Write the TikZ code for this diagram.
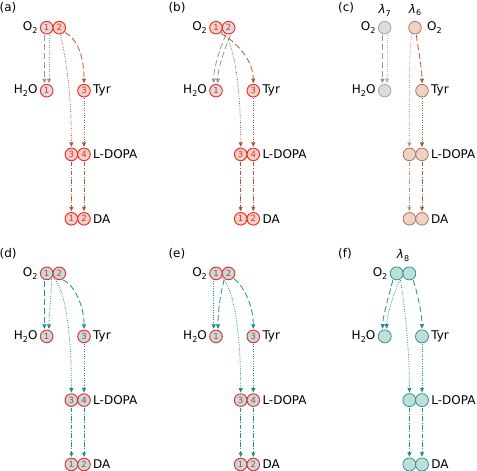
\documentclass[tikz,border=0pt]{standalone}
\usepackage{fontspec}
\setmainfont{DejaVu Sans}
\usetikzlibrary{arrows.meta}
\definecolor{cgray}{HTML}{959595}
\definecolor{cbrown}{HTML}{A8593A}
\definecolor{cbrownL}{HTML}{C8917A}
\definecolor{cteal}{HTML}{1E9090}
\definecolor{fgray}{HTML}{DCDCDC}
\definecolor{fbrown}{HTML}{ECD3C6}
\definecolor{fteal}{HTML}{BCDFDB}
\definecolor{cred}{HTML}{F42A2A}
\definecolor{bgray}{HTML}{A0A0A0}
\definecolor{bbrown}{HTML}{B5694A}
\definecolor{bteal}{HTML}{2A8E8E}
\newcommand\sbs[1]{\raisebox{-0.45ex}{\fontsize{8}{8}\selectfont #1}}
\begin{document}
\begin{tikzpicture}[x=1pt,y=-1pt,
  atom/.style={circle, draw=cred, line width=0.95pt, minimum size=12.6pt, inner sep=0pt, outer sep=1.2pt,
    font=\fontsize{8.5}{8.5}\selectfont, text=cred},
  gatom/.style={circle, draw=bgray, fill=fgray, line width=0.75pt, minimum size=12.6pt, inner sep=0pt, outer sep=1.2pt},
  batom/.style={circle, draw=bbrown, fill=fbrown, line width=0.75pt, minimum size=12.6pt, inner sep=0pt, outer sep=1.2pt},
  tatom/.style={circle, draw=bteal, fill=fteal, line width=0.75pt, minimum size=13pt, inner sep=0pt, outer sep=1.2pt},
  lbl/.style={font=\fontsize{12}{12}\selectfont, inner sep=1.5pt},
  plbl/.style={font=\fontsize{12}{12}\selectfont, inner sep=0pt, anchor=west},
  lam/.style={font=\fontsize{12}{12}\selectfont\itshape, inner sep=0pt},
  arr/.style={line width=0.8pt, -{Triangle[length=4.5pt,width=4pt]}},
  dsh/.style={arr, dash pattern=on 6pt off 3pt},
  dtt/.style={arr, dash pattern=on 0.9pt off 1.5pt},
  ddt/.style={arr, dash pattern=on 4.5pt off 1.6pt on 0.9pt off 1.6pt},
]
\path[use as bounding box] (0,0) rectangle (477,471);

% ---------------- (a)
\node[plbl] (pa) at (-0.5,8) {(a)};
\node[atom, fill=fgray]  (aO1) at (46.7,27.7) {1};
\node[atom, fill=fbrown] (aO2) at (59.3,27.7) {2};
\node[atom, fill=fgray]  (aW)  at (46.7,90.7) {1};
\node[atom, fill=fbrown] (aT)  at (84,90.7) {3};
\node[atom, fill=fbrown] (aL1) at (71.4,154.4) {3};
\node[atom, fill=fbrown] (aL2) at (84,154.4) {4};
\node[atom, fill=fbrown] (aD1) at (71.4,218.8) {1};
\node[atom, fill=fbrown] (aD2) at (84,218.8) {2};
\node[lbl, anchor=east] (aOt) at (aO1.west) {O\sbs{2}};
\node[lbl, anchor=east] (aWt) at (aW.west) {H\sbs{2}O};
\node[lbl, anchor=west] (aTt) at (aT.east) {Tyr};
\node[lbl, anchor=west] (aLt) at (aL2.east) {L-DOPA};
\node[lbl, anchor=west] (aDt) at (aD2.east) {DA};
\draw[dsh, cgray] ([xshift=-2.3]aO1.south) -- ([xshift=-2.3]aW.north);
\draw[dtt, cgray] ([xshift=2.3]aO1.south) -- ([xshift=2.3]aW.north);
\draw[dsh, cbrown] (aO2.-40) .. controls +(12,6) and +(0,-27) .. (aT.north);
\draw[dtt, cbrown] (aO2.-80) .. controls +(4,18) and +(0,-60) .. (aL1.north);
\draw[dtt, cbrown] (aT) -- (aL2);
\draw[ddt, cbrown] (aL1) -- (aD1);
\draw[ddt, cbrown] (aL2) -- (aD2);

% ---------------- (b)
\begin{scope}[shift={(169.3,0)}]
\node[plbl] (pb) at (-1,8) {(b)};
\node[atom, fill=fbrown] (bO1) at (46.7,27.7) {1};
\node[atom, fill=fgray]  (bO2) at (59.3,27.7) {2};
\node[atom, fill=fgray]  (bW)  at (46.7,90.7) {1};
\node[atom, fill=fbrown] (bT)  at (84,90.7) {3};
\node[atom, fill=fbrown] (bL1) at (71.4,154.4) {3};
\node[atom, fill=fbrown] (bL2) at (84,154.4) {4};
\node[atom, fill=fbrown] (bD1) at (71.4,218.8) {1};
\node[atom, fill=fbrown] (bD2) at (84,218.8) {2};
\node[lbl, anchor=east] (bOt) at (bO1.west) {O\sbs{2}};
\node[lbl, anchor=east] (bWt) at (bW.west) {H\sbs{2}O};
\node[lbl, anchor=west] (bTt) at (bT.east) {Tyr};
\node[lbl, anchor=west] (bLt) at (bL2.east) {L-DOPA};
\node[lbl, anchor=west] (bDt) at (bD2.east) {DA};
\draw[dsh, cgray] (bO2.-110) .. controls +(-5,10) and +(0,-16) .. ([xshift=-2.3]bW.north);
\draw[dsh, cgray] (bO2.-75) .. controls +(-5,12) and +(0,-16) .. ([xshift=1.8]bW.north);
\draw[dsh, cbrown] (bO1.-50) .. controls +(12,6) and +(0,-25) .. (bT.north);
\draw[dtt, cbrown] (bO1.-35) .. controls +(12,8) and +(0,-60) .. (bL1.north);
\draw[dtt, cbrown] (bT) -- (bL2);
\draw[ddt, cbrown] (bL1) -- (bD1);
\draw[ddt, cbrown] (bL2) -- (bD2);
\end{scope}

% ---------------- (c)
\begin{scope}[shift={(338,0)}]
\node[plbl] (pc) at (0,8) {(c)};
\node[gatom] (cO1) at (46.7,27.7) {};
\node[batom] (cO2) at (77,27.7) {};
\node[lam] (cl7) at (46.7,10) {λ\sbs{\upshape 7}};
\node[lam] (cl6) at (77,10) {λ\sbs{\upshape 6}};
\node[gatom] (cW)  at (46.7,90.7) {};
\node[batom] (cT)  at (84,90.7) {};
\node[batom] (cL1) at (71.4,154.4) {};
\node[batom] (cL2) at (84,154.4) {};
\node[batom] (cD1) at (71.4,218.8) {};
\node[batom] (cD2) at (84,218.8) {};
\node[lbl, anchor=east] (cOt) at (cO1.west) {O\sbs{2}};
\node[lbl, anchor=west] (cOt2) at ([xshift=3]cO2.east) {O\sbs{2}};
\node[lbl, anchor=east] (cWt) at (cW.west) {H\sbs{2}O};
\node[lbl, anchor=west] (cTt) at (cT.east) {Tyr};
\node[lbl, anchor=west] (cLt) at (cL2.east) {L-DOPA};
\node[lbl, anchor=west] (cDt) at (cD2.east) {DA};
\draw[dsh, cgray] ([xshift=-2.3]cO1.south) -- ([xshift=-2.3]cW.north);
\draw[dtt, cgray!70] ([xshift=2.3]cO1.south) -- ([xshift=2.3]cW.north);
\draw[dsh, cbrown] (cO2.-80) .. controls +(2,15) and +(0,-15) .. (cT.north);
\draw[dtt, cbrownL] (cO2.-115) .. controls +(-3,15) and +(0,-50) .. (cL1.north);
\draw[dtt, cbrown] (cT) -- (cL2);
\draw[ddt, cbrownL] (cL1) -- (cD1);
\draw[ddt, cbrown] (cL2) -- (cD2);
\end{scope}

% ---------------- (d)
\begin{scope}[shift={(0,245.7)}]
\node[plbl] (pd) at (-0.5,8) {(d)};
\node[atom, fill=fteal] (dO1) at (46.7,27.7) {1};
\node[atom, fill=fteal] (dO2) at (59.3,27.7) {2};
\node[atom, fill=fteal] (dW)  at (46.7,90.7) {1};
\node[atom, fill=fteal] (dT)  at (84,90.7) {3};
\node[atom, fill=fteal] (dL1) at (71.4,154.4) {3};
\node[atom, fill=fteal] (dL2) at (84,154.4) {4};
\node[atom, fill=fteal] (dD1) at (71.4,218.8) {1};
\node[atom, fill=fteal] (dD2) at (84,218.8) {2};
\node[lbl, anchor=east] (dOt) at (dO1.west) {O\sbs{2}};
\node[lbl, anchor=east] (dWt) at (dW.west) {H\sbs{2}O};
\node[lbl, anchor=west] (dTt) at (dT.east) {Tyr};
\node[lbl, anchor=west] (dLt) at (dL2.east) {L-DOPA};
\node[lbl, anchor=west] (dDt) at (dD2.east) {DA};
\draw[dsh, cteal] ([xshift=-2.3]dO1.south) -- ([xshift=-2.3]dW.north);
\draw[dtt, cteal] (dO1.-50) .. controls +(0,15) and +(0,-15) .. ([xshift=2.3]dW.north);
\draw[dtt, cteal] (dO1.-35) .. controls +(10,6) and +(0,-70) .. (dL1.north);
\draw[dsh, cteal] (dO2.-60) .. controls +(10,4) and +(0,-25) .. (dT.north);
\draw[dtt, cteal] (dT) -- (dL2);
\draw[ddt, cteal] (dL1) -- (dD1);
\draw[ddt, cteal] (dL2) -- (dD2);
\end{scope}

% ---------------- (e)
\begin{scope}[shift={(169.3,245.7)}]
\node[plbl] (pe) at (-1,8) {(e)};
\node[atom, fill=fteal] (eO1) at (46.7,27.7) {1};
\node[atom, fill=fteal] (eO2) at (59.3,27.7) {2};
\node[atom, fill=fteal] (eW)  at (46.7,90.7) {1};
\node[atom, fill=fteal] (eT)  at (84,90.7) {3};
\node[atom, fill=fteal] (eL1) at (71.4,154.4) {3};
\node[atom, fill=fteal] (eL2) at (84,154.4) {4};
\node[atom, fill=fteal] (eD1) at (71.4,218.8) {1};
\node[atom, fill=fteal] (eD2) at (84,218.8) {2};
\node[lbl, anchor=east] (eOt) at (eO1.west) {O\sbs{2}};
\node[lbl, anchor=east] (eWt) at (eW.west) {H\sbs{2}O};
\node[lbl, anchor=west] (eTt) at (eT.east) {Tyr};
\node[lbl, anchor=west] (eLt) at (eL2.east) {L-DOPA};
\node[lbl, anchor=west] (eDt) at (eD2.east) {DA};
\draw[dtt, cteal] ([xshift=-2.3]eO1.south) -- ([xshift=-2.3]eW.north);
\draw[dsh, cteal] (eO2.-125) .. controls +(-3,10) and +(0,-20) .. ([xshift=2]eW.north);
\draw[dtt, cteal] (eO1.-40) .. controls +(12,8) and +(0,-60) .. (eL1.north);
\draw[dsh, cteal] (eO2.-45) .. controls +(8,5) and +(0,-25) .. (eT.north);
\draw[dtt, cteal] (eT) -- (eL2);
\draw[ddt, cteal] (eL1) -- (eD1);
\draw[ddt, cteal] (eL2) -- (eD2);
\end{scope}

% ---------------- (f)
\begin{scope}[shift={(338,245.7)}]
\node[plbl] (pf) at (0,8) {(f)};
\node[tatom] (fO1) at (58.7,27.7) {};
\node[tatom] (fO2) at (71.3,27.7) {};
\node[lam] (fl8) at (65,9.5) {λ\sbs{\upshape 8}};
\node[tatom] (fW)  at (46.7,90.7) {};
\node[tatom] (fT)  at (84,90.7) {};
\node[tatom] (fL1) at (71.4,154.4) {};
\node[tatom] (fL2) at (84,154.4) {};
\node[tatom] (fD1) at (71.4,218.8) {};
\node[tatom] (fD2) at (84,218.8) {};
\node[lbl, anchor=east] (fOt) at (fO1.west) {O\sbs{2}};
\node[lbl, anchor=east] (fWt) at (fW.west) {H\sbs{2}O};
\node[lbl, anchor=west] (fTt) at (fT.east) {Tyr};
\node[lbl, anchor=west] (fLt) at (fL2.east) {L-DOPA};
\node[lbl, anchor=west] (fDt) at (fD2.east) {DA};
\draw[dsh, cteal] (fO1.-120) .. controls +(-3,12) and +(0,-12) .. ([xshift=-2]fW.north);
\draw[dtt, cteal] (fO1.-60) .. controls +(-6,8) and +(0,-12) .. ([xshift=2]fW.north);
\draw[dtt, cteal] (fO1.-60) .. controls +(3,20) and +(0,-50) .. (fL1.north);
\draw[dsh, cteal] (fO2.-60) .. controls +(4,12) and +(0,-15) .. (fT.north);
\draw[dtt, cteal] (fT) -- (fL2);
\draw[ddt, cteal] (fL1) -- (fD1);
\draw[ddt, cteal] (fL2) -- (fD2);
\end{scope}
\end{tikzpicture}
\end{document}
